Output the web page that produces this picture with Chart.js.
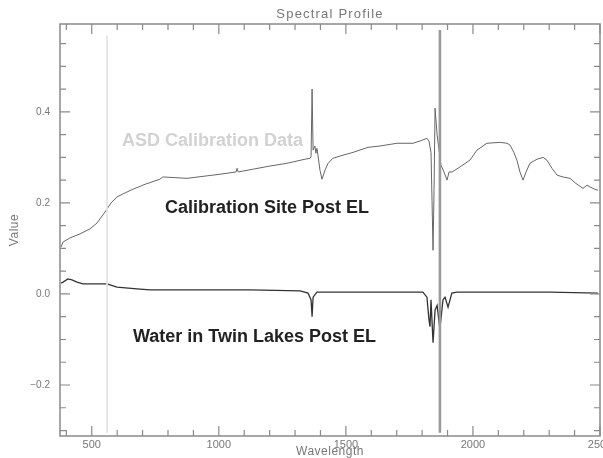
<!DOCTYPE html>
<html>
<head>
<meta charset="utf-8">
<script src="https://cdn.jsdelivr.net/npm/chart.js@4.4.0/dist/chart.umd.min.js"></script>
<style>
html,body{margin:0;padding:0;background:#fff;}
#wrap{width:603px;height:458px;position:relative;}
</style>
</head>
<body>
<div id="wrap"><canvas id="c" width="603" height="458"></canvas></div>
<script>
// Calibration Site Post EL (upper curve)
const calWl  = [379,387,414,454,493,521,552,576,599,631,662,710,768,780,875,1005,1068,1072,1076,1134,1201,1268,1339,1359,1363,1367,1371,1378,1382,1386,1390,1398,1406,1418,1430,1449,1477,1528,1587,1634,1701,1764,1792,1819,1827,1835,1839,1843,1847,1851,1859,1867,1874,1886,1898,1906,1918,1949,1988,2016,2055,2106,2134,2146,2161,2173,2185,2197,2209,2224,2252,2276,2291,2311,2331,2354,2382,2405,2433,2449,2461,2480,2492];
const calVal = [0.103,0.114,0.123,0.132,0.143,0.156,0.180,0.200,0.213,0.222,0.230,0.241,0.252,0.257,0.254,0.263,0.268,0.276,0.268,0.274,0.281,0.287,0.296,0.298,0.302,0.450,0.316,0.325,0.309,0.320,0.305,0.272,0.252,0.272,0.287,0.298,0.303,0.311,0.322,0.325,0.331,0.331,0.336,0.342,0.336,0.311,0.206,0.096,0.228,0.408,0.349,0.316,0.283,0.268,0.250,0.268,0.268,0.279,0.294,0.316,0.331,0.333,0.331,0.327,0.311,0.294,0.268,0.250,0.268,0.287,0.296,0.300,0.294,0.276,0.261,0.257,0.254,0.243,0.232,0.239,0.235,0.230,0.228];

// Water in Twin Lakes Post EL (lower curve)
const watWl  = [379,387,406,422,442,465,560,599,678,729,926,1123,1320,1351,1363,1367,1371,1386,1516,1713,1803,1819,1827,1831,1835,1843,1851,1859,1870,1882,1890,1902,1917,1937,2106,2303,2492];
const watVal = [0.024,0.026,0.033,0.031,0.026,0.022,0.022,0.015,0.011,0.009,0.009,0.009,0.007,0.002,-0.013,-0.050,-0.007,0.004,0.004,0.004,0.004,-0.007,-0.057,-0.072,-0.013,-0.107,-0.035,-0.025,-0.077,-0.013,-0.007,-0.029,0.002,0.004,0.004,0.004,0.002];

// ASD Calibration Data marks (light gray)
const asdLineWl  = [560,560];
const asdLineVal = [0.568,-0.305];
const asdSpikeWl  = [1870,1870];
const asdSpikeVal = [0.580,-0.305];

// Axes
const xMin = 375, xMax = 2500, xMinor = 100;
const xTicks = [500,1000,1500,2000,2500];
const yMin = -0.312, yMax = 0.593, yMinor = 0.05;
const yTicks = [-0.2,0.0,0.2,0.4];

const titleText = 'Spectral Profile';
const xTitle = 'Wavelength';
const yTitle = 'Value';
const labels = [
  {text:'ASD Calibration Data', x:619, y:0.336, color:'#d2d2d2'},
  {text:'Calibration Site Post EL', x:788, y:0.189, color:'#222'},
  {text:'Water in Twin Lakes Post EL', x:662, y:-0.094, color:'#222'}
];

const pts = (xs, ys) => xs.map((x,i)=>({x:x, y:ys[i]}));
const AX = '#8a8a8a';
const FF = '"Liberation Sans", Arial, sans-serif';

const framePlugin = {
  id:'frame',
  afterDraw(chart){
    const ctx = chart.ctx, a = chart.chartArea;
    const xs = chart.scales.x, ys = chart.scales.y;
    ctx.save();
    ctx.strokeStyle = AX; ctx.lineWidth = 1.5;
    ctx.strokeRect(a.left, a.top, a.right-a.left, a.bottom-a.top);
    ctx.lineWidth = 1.2;
    ctx.beginPath();
    for (let v = Math.ceil(xMin/xMinor)*xMinor; v <= xMax+1e-9; v += xMinor){
      const px = xs.getPixelForValue(v);
      const L = xTicks.includes(v) ? 10 : 6;
      ctx.moveTo(px, a.bottom); ctx.lineTo(px, a.bottom-L);
      ctx.moveTo(px, a.top); ctx.lineTo(px, a.top+L);
    }
    for (let k = Math.ceil(yMin/yMinor); k*yMinor <= yMax+1e-9; k++){
      const v = k*yMinor;
      const py = ys.getPixelForValue(v);
      const L = (k % 4 === 0) ? 10 : 6;
      ctx.moveTo(a.left, py); ctx.lineTo(a.left+L, py);
      ctx.moveTo(a.right, py); ctx.lineTo(a.right-L, py);
    }
    ctx.stroke();
    // titles
    ctx.fillStyle = '#777';
    ctx.textAlign = 'center'; ctx.textBaseline = 'middle';
    ctx.font = '13px ' + FF;
    ctx.letterSpacing = '1.2px';
    ctx.fillText(titleText, (a.left+a.right)/2, 14);
    ctx.font = '12px ' + FF;
    ctx.letterSpacing = '0.5px';
    ctx.fillText(xTitle, (a.left+a.right)/2, 452);
    ctx.save();
    ctx.translate(15, (a.top+a.bottom)/2);
    ctx.rotate(-Math.PI/2);
    ctx.fillText(yTitle, 0, 0);
    ctx.restore();
    ctx.letterSpacing = '0px';
    // annotations
    ctx.font = 'bold 18px ' + FF;
    ctx.textAlign = 'left';
    labels.forEach(l=>{
      ctx.fillStyle = l.color;
      ctx.fillText(l.text, xs.getPixelForValue(l.x), ys.getPixelForValue(l.y));
    });
    ctx.restore();
  }
};

new Chart(document.getElementById('c'), {
  type:'line',
  data:{
    datasets:[
      {label:'ASD line', data:pts(asdLineWl, asdLineVal), borderColor:'#e4e4e4', borderWidth:1, pointRadius:0, tension:0},
      {label:'ASD spike', data:pts(asdSpikeWl, asdSpikeVal), borderColor:'#9a9a9a', borderWidth:2.6, pointRadius:0, tension:0},
      {label:'Calibration Site Post EL', data:pts(calWl, calVal), borderColor:'#666', borderWidth:1, pointRadius:0, tension:0},
      {label:'Water in Twin Lakes Post EL', data:pts(watWl, watVal), borderColor:'#333', borderWidth:1.3, pointRadius:0, tension:0}
    ]
  },
  options:{
    responsive:false, animation:false, devicePixelRatio:1,
    layout:{padding:{left:0, top:24, right:3, bottom:0}},
    plugins:{legend:{display:false}, tooltip:{enabled:false}, title:{display:false}},
    scales:{
      x:{type:'linear', min:xMin, max:xMax,
         grid:{display:false, drawTicks:false}, border:{display:false},
         afterBuildTicks:(s)=>{ s.ticks = xTicks.map(v=>({value:v})); },
         ticks:{padding:2, color:'#777', maxRotation:0, autoSkip:false,
                font:{size:11, family:FF},
                callback:(v)=>String(v)},
         afterFit:(s)=>{ s.height = 22; s.paddingLeft = 0; s.paddingRight = 0; }},
      y:{type:'linear', min:yMin, max:yMax,
         grid:{display:false, drawTicks:false}, border:{display:false},
         afterBuildTicks:(s)=>{ s.ticks = yTicks.map(v=>({value:v})); },
         ticks:{padding:10, color:'#777', autoSkip:false,
                font:{size:10, family:FF},
                callback:(v)=>{ const r = Math.round(v*10)/10; return (r<0?'\u2212':'') + Math.abs(r).toFixed(1); }},
         afterFit:(s)=>{ s.width = 60; s.paddingTop = 0; s.paddingBottom = 0; }}
    }
  },
  plugins:[framePlugin]
});
</script>
</body>
</html>
